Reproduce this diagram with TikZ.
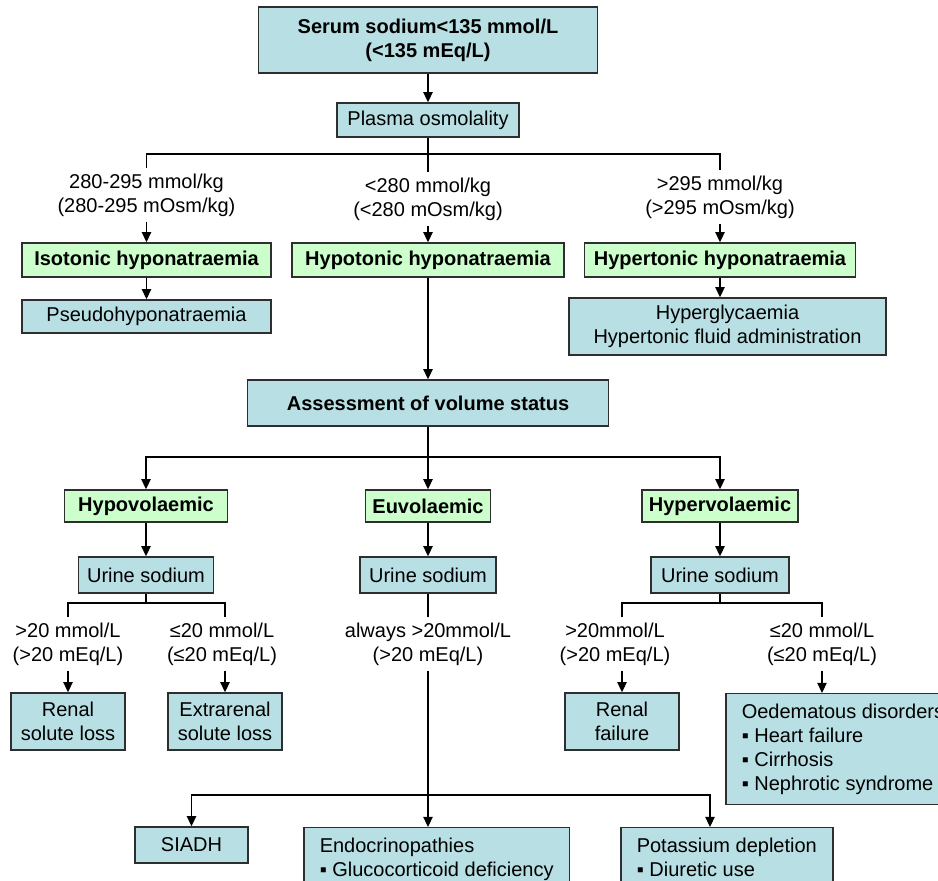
\documentclass[tikz,border=0pt]{standalone}
\usepackage{fontspec}
\setsansfont{Liberation Sans}
\usepackage{xcolor}
\usetikzlibrary{arrows.meta}
\definecolor{BoxBlue}{HTML}{B8DFE3}
\definecolor{BoxGreen}{HTML}{CCFFCC}
\definecolor{Edge}{HTML}{2E2E2E}
\definecolor{Ink}{HTML}{000000}

\begin{document}
\begin{tikzpicture}[x=0.5pt,y=-0.5pt,every node/.style={font=\sffamily,text=Ink},
  >={Triangle[length=5pt,width=4.6pt]},
  link/.style={draw=Ink,line width=0.75pt},
  bluebox/.style={draw=Edge,line width=0.75pt,fill=BoxBlue,inner sep=0pt,align=center},
  greenbox/.style={bluebox,fill=BoxGreen,font=\sffamily\bfseries},
  listbox/.style={draw=Edge,line width=0.75pt,fill=BoxBlue,align=left,anchor=north west,inner xsep=8pt,inner ysep=5pt},
  cond/.style={align=center,inner xsep=1pt,inner ysep=2.5pt},
  wh/.style 2 args={minimum width=#1*0.5pt,minimum height=#2*0.5pt}]
\useasboundingbox (0,0) rectangle (938,881);
\clip (0,0) rectangle (938,881);
\fill[white] (0,0) rectangle (938,881);
\node[bluebox,wh={339}{66},font=\sffamily\bfseries] (serum) at (428,40) {Serum sodium<135 mmol/L\\(<135 mEq/L)};
\node[bluebox,wh={182}{34}] (osmo) at (428,120) {Plasma osmolality};
\node[cond] (c1) at (146.5,195) {280-295 mmol/kg\\(280-295 mOsm/kg)};
\node[cond] (c2) at (428,199) {<280 mmol/kg\\(<280 mOsm/kg)};
\node[cond] (c3) at (720,197) {>295 mmol/kg\\(>295 mOsm/kg)};
\node[greenbox,wh={249}{34}] (iso) at (146.5,260) {Isotonic hyponatraemia};
\node[greenbox,wh={272}{34}] (hypo) at (428,260) {Hypotonic hyponatraemia};
\node[greenbox,wh={271}{34}] (hyper) at (720,260) {Hypertonic hyponatraemia};
\node[bluebox,wh={249}{33}] (pseudo) at (146.5,316.5) {Pseudohyponatraemia};
\node[bluebox,wh={317}{57}] (causes) at (727.5,326.5) {Hyperglycaemia\\Hypertonic fluid administration};
\node[bluebox,wh={361}{46},font=\sffamily\bfseries] (assess) at (428,403) {Assessment of volume status};
\node[greenbox,wh={163}{32}] (hypov) at (146,506) {Hypovolaemic};
\node[greenbox,wh={125}{32}] (euv) at (428,506) {Euvolaemic};
\node[greenbox,wh={156}{32}] (hyperv) at (720,506) {Hypervolaemic};
\node[bluebox,wh={135}{36}] (una) at (146,575) {Urine sodium};
\node[bluebox,wh={136}{36}] (unb) at (428,575) {Urine sodium};
\node[bluebox,wh={138}{36}] (unc) at (720,575) {Urine sodium};
\node[cond] (d1) at (68,644) {>20 mmol/L\\(>20 mEq/L)};
\node[cond] (d2) at (222,644) {≤20 mmol/L\\(≤20 mEq/L)};
\node[cond] (d3) at (428,644) {always >20mmol/L\\(>20 mEq/L)};
\node[cond] (d4) at (615,644) {>20mmol/L\\(>20 mEq/L)};
\node[cond] (d5) at (822,644) {≤20 mmol/L\\(≤20 mEq/L)};
\node[bluebox,wh={114}{57}] (renal) at (68,721.5) {Renal\\solute loss};
\node[bluebox,wh={114}{57}] (extra) at (225,721.5) {Extrarenal\\solute loss};
\node[bluebox,wh={114}{57}] (rfail) at (622,721.5) {Renal\\failure};
\node[listbox] (oed) at (725,693) {Oedematous disorders\\▪ Heart failure\\▪ Cirrhosis\\▪ Nephrotic syndrome};
\node[bluebox,wh={113}{36}] (siadh) at (191.5,845) {SIADH};
\node[listbox] (endo) at (303,827) {Endocrinopathies\\▪ Glucocorticoid deficiency};
\node[listbox] (kdep) at (620,827) {Potassium depletion\\▪ Diuretic use};
\coordinate (t1) at (428,154);
\coordinate (t2) at (428,457);
\coordinate (t3) at (146,603);
\coordinate (t4) at (428,795);
\coordinate (t5) at (720,603);
\coordinate (kin) at (710,827);
\draw[link,->] (serum) -- (osmo);
\draw[link] (osmo) -- (c2);
\draw[link] (iso.north |- c1.north) |- (t1) -| (hyper.north |- c3.north);
\draw[link,->] (iso.north |- c1.south) -- (iso);
\draw[link,->] (c2) -- (hypo);
\draw[link,->] (hyper.north |- c3.south) -- (hyper);
\draw[link,->] (iso) -- (pseudo);
\draw[link,->] (hyper.south) -- (hyper.south |- causes.north);
\draw[link,->] (hypo) -- (assess);
\draw[link,->] (assess) -- (euv);
\draw[link,->] (t2) -| (hypov);
\draw[link,->] (t2) -| (hyperv);
\draw[link,->] (hypov) -- (una);
\draw[link,->] (euv) -- (unb);
\draw[link,->] (hyperv) -- (unc);
\draw[link] (una) -- (t3);
\draw[link] (renal.north |- d1.north) |- (t3) -| (extra.north |- d2.north);
\draw[link,->] (renal.north |- d1.south) -- (renal);
\draw[link,->] (extra.north |- d2.south) -- (extra);
\draw[link] (unb) -- (d3);
\draw[link,->] (d3) -- (d3 |- endo.north);
\draw[link,->] (t4) -| (siadh);
\draw[link,->] (t4) -| (kin);
\draw[link] (unc) -- (t5);
\draw[link] (rfail.north |- d4.north) |- (t5) -| (d5.north);
\draw[link,->] (rfail.north |- d4.south) -- (rfail);
\draw[link,->] (d5.south) -- (d5.south |- oed.north);
\end{tikzpicture}
\end{document}
